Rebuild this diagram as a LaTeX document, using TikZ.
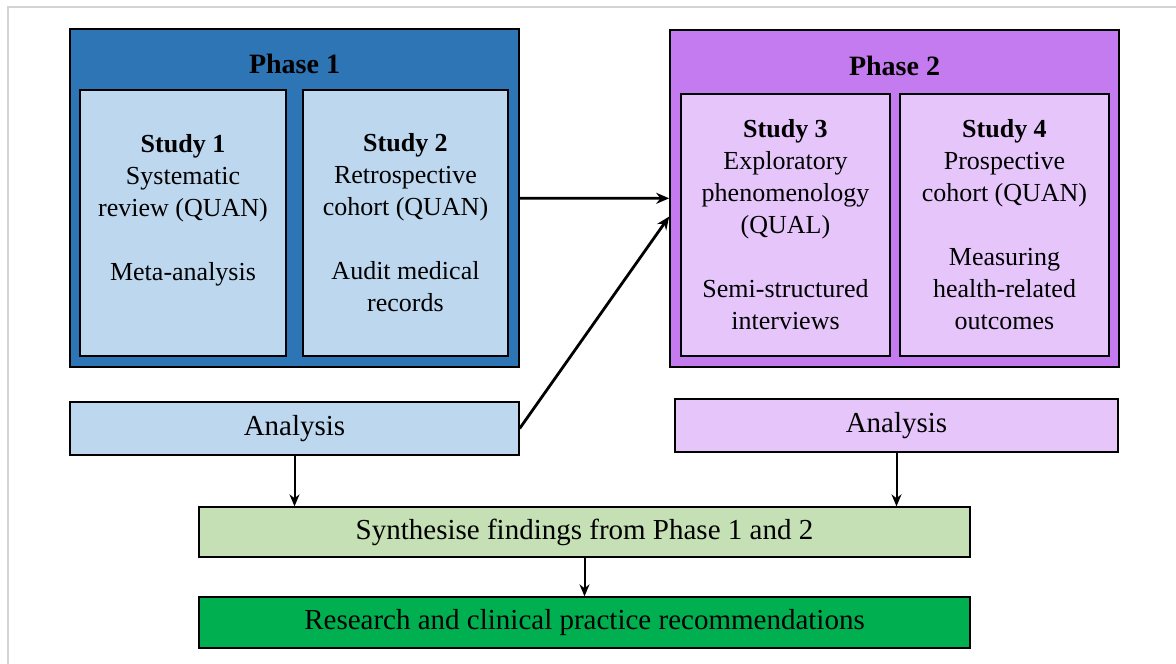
\documentclass[tikz,border=0pt]{standalone}
\usepackage{fontspec}
\setmainfont{Liberation Serif}
\usetikzlibrary{arrows.meta, positioning}
\definecolor{phaseblue}{HTML}{2E75B6}
\definecolor{studyblue}{HTML}{BDD7EE}
\definecolor{phasepurple}{HTML}{C57BF0}
\definecolor{studypurple}{HTML}{E6C5FB}
\definecolor{synthgreen}{HTML}{C5E0B4}
\definecolor{recgreen}{HTML}{00B050}
\definecolor{framegrey}{HTML}{D4D4D4}
\tikzstyle{phase} = [rectangle, draw=black, line width=1.6pt, inner sep=0pt, minimum width=449pt, minimum height=338pt]
\tikzstyle{phasetitle} = [font=\fontsize{28}{32}\selectfont\bfseries, inner sep=0pt]
\tikzstyle{study} = [rectangle, draw=black, line width=1.3pt, inner sep=0pt, align=center, minimum height=266pt, font=\fontsize{26}{32}\selectfont]
\tikzstyle{wide} = [rectangle, draw=black, line width=1.3pt, inner sep=0pt, minimum height=52pt, font=\fontsize{29}{34}\selectfont]
\tikzstyle{arrow} = [line width=2.8pt,-{Stealth[length=13pt,width=11pt]}]
\tikzstyle{downarrow} = [line width=2pt,-{Stealth[length=12pt,width=10pt]}]

\begin{document}
\begin{tikzpicture}[x=1pt, y=-1pt]
        \useasboundingbox (0,0) rectangle (1176,664);
        \draw[framegrey, line width=1.2pt] (8,664) -- (8,7) -- (1176,7);
        % Phase 1
        \node[phase, fill=phaseblue] (phaseA) at (294.5,198) {};
        \node[phasetitle] (phaseAtitle) at (294.5,64) {Phase 1};
        \node[study, fill=studyblue, minimum width=206pt] (studyA) at (183,223)
            {\textbf{Study 1}\\Systematic\\review (QUAN)\\[32pt]Meta-analysis\\ \mbox{}};
        \node[study, fill=studyblue, minimum width=205pt] (studyB) at (405.5,223)
            {\textbf{Study 2}\\Retrospective\\cohort (QUAN)\\[32pt]Audit medical\\records};
        % Phase 2
        \node[phase, fill=phasepurple, minimum height=337pt] (phaseB) at (894.5,198.5) {};
        \node[phasetitle] (phaseBtitle) at (894.5,65.5) {Phase 2};
        \node[study, fill=studypurple, minimum width=209pt, minimum height=262pt] (studyC) at (785.5,225)
            {\textbf{Study 3}\\Exploratory\\phenomenology\\(QUAL)\\[32pt]Semi-structured\\interviews};
        \node[study, fill=studypurple, minimum width=209pt, minimum height=262pt] (studyD) at (1004.5,225)
            {\textbf{Study 4}\\Prospective\\cohort (QUAN)\\[32pt]Measuring\\health-related\\outcomes};
        % analysis and synthesis
        \node[wide, fill=studyblue, minimum width=449pt, minimum height=53pt] (analysisA) at (294.5,428.5) {Analysis};
        \node[wide, fill=studypurple, minimum width=443pt, minimum height=53pt] (analysisB) at (896.5,425.5) {Analysis};
        \node[wide, fill=synthgreen, minimum width=771pt, minimum height=50pt] (synth) at (584.5,532) {Synthesise findings from Phase 1 and 2};
        \node[wide, fill=recgreen, minimum width=771pt, minimum height=51pt] (recs) at (584.5,622.5) {Research and clinical practice recommendations};
        \draw[arrow] (phaseA) -- (phaseB);
        \draw[arrow] (analysisA.east) -- ([yshift=-18pt]phaseB.west);
        \draw[downarrow] (analysisA.south) -- (analysisA.south |- synth.north);
        \draw[downarrow] (analysisB.south) -- (analysisB.south |- synth.north);
        \draw[downarrow] (synth) -- (recs);
    \end{tikzpicture}
\end{document}
